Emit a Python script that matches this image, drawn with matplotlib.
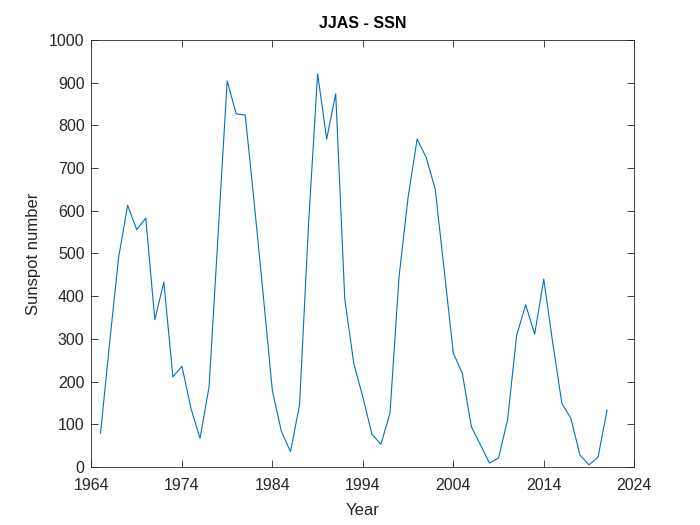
import matplotlib
matplotlib.use('Agg')
import matplotlib.pyplot as plt
import numpy as np

# JJAS sunspot number, one value per year
years = np.arange(1965, 2022)
ssn = [79, 290, 491, 613, 556, 583, 345, 433, 211, 236,
       137, 67, 188, 545, 904, 827, 824, 616, 400, 178,
       83, 36, 145, 570, 921, 768, 874, 394, 242, 164,
       77, 53, 126, 445, 631, 768, 725, 651, 460, 267,
       219, 94, 52, 9, 21, 110, 308, 380, 311, 440,
       290, 149, 114, 28, 5, 23, 133]

xticks = np.arange(1964, 2025, 10)
yticks = np.arange(0, 1001, 100)

plt.rcParams['font.family'] = ['Liberation Sans', 'DejaVu Sans']
fig = plt.figure(figsize=(7, 5.25), dpi=100)
ax = fig.add_axes([0.1307, 0.1105, 0.7753, 0.8133])

ax.plot(years, ssn, color='#0072BD', linewidth=0.8)

ax.set_xlim(1964, 2024)
ax.set_ylim(0, 1000)
ax.set_xticks(xticks)
ax.set_yticks(yticks)
ax.tick_params(direction='in', top=True, right=True, length=5, width=0.6,
               labelsize=11.5, colors='#262626')
ax.tick_params(axis='x', pad=8)
ax.tick_params(axis='y', pad=5)
for s in ax.spines.values():
    s.set_color('#262626')
    s.set_linewidth(0.6)

ax.set_title('JJAS - SSN', fontsize=11.5, fontweight='bold', color='black', pad=9)
ax.set_xlabel('Year', fontsize=12, color='#262626', labelpad=7)
ax.set_ylabel('Sunspot number', fontsize=12, color='#262626', labelpad=6)

plt.savefig('out.png', dpi=100)
plt.close()
